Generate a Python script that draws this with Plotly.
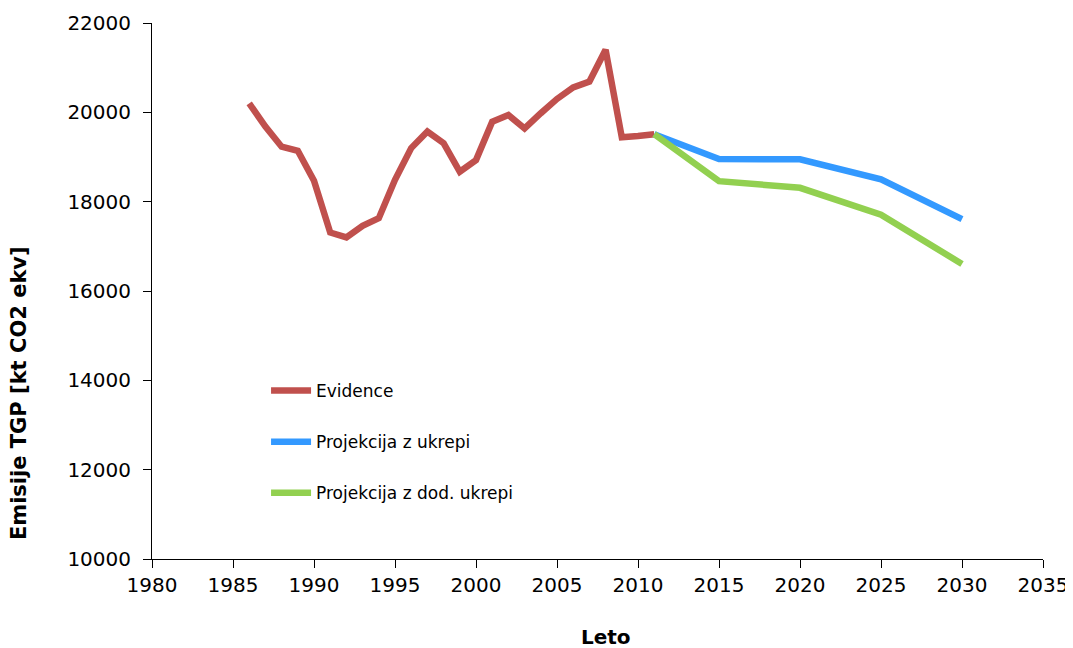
import plotly.graph_objects as go

years_hist = list(range(1986, 2012))
evidence = [20200, 19680, 19230, 19140, 18470, 17310, 17200, 17460, 17630, 18490,
            19200, 19570, 19310, 18670, 18930, 19790, 19940, 19640, 19980, 20300,
            20560, 20690, 21400, 19440, 19470, 19510]

years_proj = [2011, 2015, 2020, 2025, 2030]
proj_ukrepi = [19510, 18955, 18950, 18500, 17610]
proj_dod = [19510, 18460, 18310, 17710, 16605]

x_ticks = list(range(1980, 2036, 5))
y_ticks = list(range(10000, 22001, 2000))
x_labels = [str(v) for v in x_ticks]
y_labels = [str(v) for v in y_ticks]

FONT = "DejaVu Sans"

fig = go.Figure()
fig.add_trace(go.Scatter(x=years_hist, y=evidence, mode="lines", name="Evidence",
                         line=dict(color="#C0504D", width=6.5), legendgroup="a"))
fig.add_trace(go.Scatter(x=years_proj, y=proj_ukrepi, mode="lines", name="Projekcija z ukrepi",
                         line=dict(color="#3399FF", width=6.5), legendgroup="b"))
fig.add_trace(go.Scatter(x=years_proj, y=proj_dod, mode="lines", name="Projekcija z dod. ukrepi",
                         line=dict(color="#92D050", width=6.5), legendgroup="c"))

fig.update_layout(
    width=1065, height=640,
    margin=dict(l=144, r=30, t=15, b=89, autoexpand=False),
    paper_bgcolor="white", plot_bgcolor="white",
    font=dict(family=FONT, color="black", size=18),
    showlegend=True,
    legend=dict(x=0.128, y=0.347, xanchor="left", yanchor="top",
                bgcolor="rgba(0,0,0,0)", font=dict(size=17, family=FONT),
                traceorder="grouped", tracegroupgap=26, itemwidth=40),
    xaxis=dict(range=[1980, 2035], tickvals=x_ticks, ticktext=x_labels, showgrid=False,
               zeroline=False, automargin=False,
               showline=True, linecolor="black", linewidth=1, ticks="outside",
               ticklen=8, tickcolor="black", tickfont=dict(size=20, family=FONT)),
    yaxis=dict(range=[10000, 22000], tickvals=y_ticks, ticktext=y_labels, showgrid=False,
               zeroline=False, automargin=False,
               showline=True, linecolor="black", linewidth=1, ticks="outside",
               ticklen=8, tickcolor="black", tickfont=dict(size=20, family=FONT),
               ticklabelstandoff=8),
    annotations=[
        dict(text="<b>Leto</b>", xref="paper", yref="paper", x=0.509, y=-0.145,
             showarrow=False, font=dict(size=20, family=FONT), xanchor="center", yanchor="middle"),
        dict(text="<b>Emisije TGP [kt CO2 ekv]</b>", xref="paper", yref="paper",
             x=-0.149, y=0.31, textangle=-90, showarrow=False,
             font=dict(size=21, family=FONT), xanchor="center", yanchor="middle"),
    ],
)

fig.write_html("out.html")
